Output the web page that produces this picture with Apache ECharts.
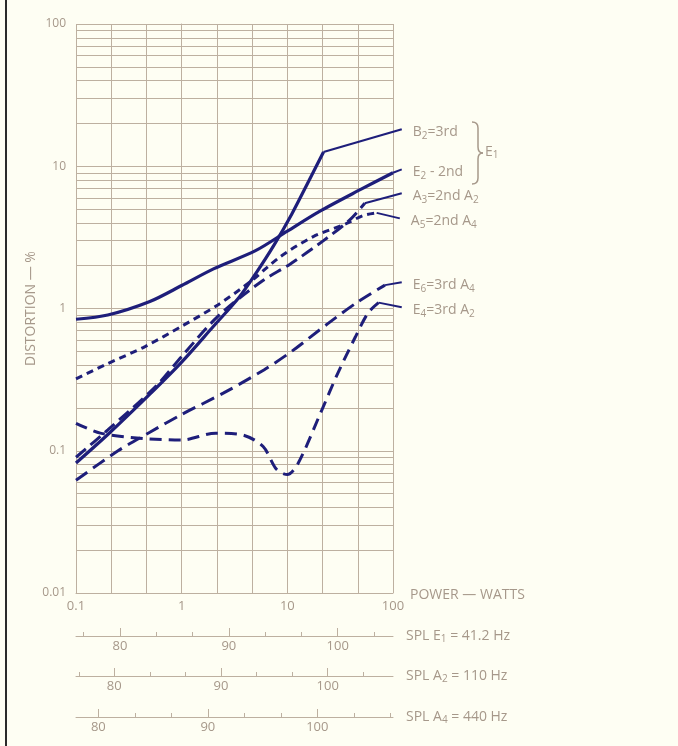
<!DOCTYPE html>
<html>
<head>
<meta charset="utf-8">
<script src="https://cdn.jsdelivr.net/npm/echarts@6/dist/echarts.min.js"></script>
<style>
html,body{margin:0;padding:0;background:#fefef3;}
#chart{width:678px;height:746px;}
</style>
</head>
<body>
<div id="chart"></div>
<script>
// ---- data (power in watts, distortion in %) ----
const powerLabels = [0.1, 1, 10, 100];
const distLabels = [0.01, 0.1, 1, 10, 100];

const curveB2 = [[0.1,0.082],[0.2,0.13],[0.5,0.25],[1,0.42],[2,0.75],[3.5,1.2],[5,1.75],[7.5,2.8],[11,4.6],[16,7.9],[22,12.6]];
const leaderB2 = [[22,12.6],[121,18.2]];

const curveE2 = [[0.1,0.84],[0.2,0.9],[0.5,1.12],[1,1.45],[2,1.9],[5,2.55],[10,3.5],[20,4.8],[50,6.9],[100,9.0]];
const leaderE2 = [[100,9.0],[121,9.5]];

const curveA3 = [[0.1,0.09],[0.2,0.14],[0.56,0.28],[1,0.46],[2.2,0.88],[5.7,1.55],[10.6,2.05],[22,3.0],[39,4.2],[54,5.5]];
const leaderA3 = [[54,5.5],[121,6.45]];

const curveA5 = [[0.1,0.32],[0.2,0.41],[0.45,0.54],[1,0.75],[2.2,1.06],[4.5,1.55],[8.5,2.3],[17.6,3.2],[36,3.95],[52,4.5],[70,4.7]];
const leaderA5 = [[70,4.7],[116,4.3]];

const curveE6 = [[0.1,0.062],[0.25,0.1],[0.5,0.135],[1,0.18],[2.5,0.255],[6,0.37],[11,0.5],[24,0.78],[47,1.12],[84,1.46]];
const leaderE6 = [[84,1.46],[121,1.53]];

const curveE4 = [[0.1,0.156],[0.17,0.133],[0.43,0.122],[1,0.119],[2.1,0.133],[3.8,0.129],[5.9,0.107],[7.9,0.074],[10,0.068],[12.7,0.082],[21,0.19],[30,0.35],[44,0.63],[58,0.93],[73,1.1]];
const leaderE4 = [[73,1.1],[121,1.02]];

// SPL scales (dB)
const splMajor = [80, 90, 100];
const splE1Minor = [76.67, 83.33, 86.67, 93.33, 96.67, 103.33];
const splA2Minor = [76.67, 83.33, 86.67, 93.33, 96.67, 103.33];
const splA4Minor = [83.33, 86.67, 93.33, 96.67, 103.33, 106.67];
const splE1Range = [75.96, 105.08];
const splA2Range = [76.41, 106.12];
const splA4Range = [77.96, 106.91];

// ---- styling ----
const ink = '#1e1e7a';
const gridColor = '#bdb0a0';
const textColor = '#a6988a';
const font = 'Open Sans';

const rich = {
  n: {fontSize: 14, color: textColor, fontFamily: font},
  s: {fontSize: 10, color: textColor, fontFamily: font, padding: [7,0,0,0]}
};
const richG = {
  n: {fontSize: 14, fill: textColor, fontFamily: font},
  s: {fontSize: 10, fill: textColor, fontFamily: font, padding: [7,0,0,0]}
};

const chart = echarts.init(document.getElementById('chart'), null, {renderer: 'canvas'});

function curve(data, dash, width) {
  return {
    type: 'line', data: data, xAxisIndex: 0, yAxisIndex: 0,
    smooth: 0.3, symbol: 'none', clip: false,
    lineStyle: {color: ink, width: width, type: dash, cap: 'butt'},
    silent: true, z: 3
  };
}
function leader(data, label, width) {
  return {
    type: 'line', data: data, xAxisIndex: 8, yAxisIndex: 1,
    symbol: 'none', clip: false, silent: true, z: 3,
    lineStyle: {color: ink, width: width || 2},
    endLabel: {show: true, formatter: label, distance: 11, offset: [0, 3], rich: rich}
  };
}
function splAxis(range, offset, name) {
  return {
    type: 'value', gridIndex: 0, position: 'bottom', offset: offset,
    min: range[0], max: range[1],
    name: name, nameLocation: 'end', nameGap: 13,
    nameTextStyle: {rich: rich, verticalAlign: 'middle'},
    axisLine: {show: true, lineStyle: {color: gridColor, width: 1}},
    axisTick: {show: true, inside: true, length: 8, customValues: splMajor, lineStyle: {color: gridColor}},
    axisLabel: {show: true, customValues: splMajor, color: textColor, fontSize: 13, fontFamily: font, margin: 4},
    splitLine: {show: false}
  };
}
function splMinorAxis(range, offset, minor) {
  return {
    type: 'value', gridIndex: 0, position: 'bottom', offset: offset,
    min: range[0], max: range[1],
    axisLine: {show: false},
    axisTick: {show: true, inside: true, length: 4, customValues: minor, lineStyle: {color: gridColor}},
    axisLabel: {show: false},
    splitLine: {show: false}
  };
}

const braceStyle = {stroke: textColor, lineWidth: 1.5, fill: null};

const option = {
  backgroundColor: '#fefef3',
  animation: false,
  grid: [
    {left: 76, top: 24, width: 317, height: 569},
    // same scale, extended one tenth of a decade to the right for the label leaders
    {left: 76, top: 24, width: 327.57, height: 569}
  ],
  xAxis: [
    {
      type: 'log', logBase: 10, min: 0.1, max: 100,
      name: 'POWER — WATTS', nameLocation: 'end', nameGap: 12,
      nameTextStyle: {color: textColor, fontSize: 14, fontFamily: font, verticalAlign: 'top', padding: [-5,0,0,0]},
      axisLine: {show: true, lineStyle: {color: gridColor, width: 1}},
      axisTick: {show: false},
      axisLabel: {
        color: textColor, fontSize: 13, fontFamily: font, margin: 7,
        customValues: powerLabels,
        formatter: function (v) { return String(v); }
      },
      splitLine: {show: false}
    },
    {
      type: 'value', min: -3, max: 6, interval: 1,
      axisLine: {show: false}, axisTick: {show: false}, axisLabel: {show: false},
      splitLine: {show: true, lineStyle: {color: gridColor, width: 1}}
    },
    splAxis(splE1Range, 43, '{n|SPL E}{s|1}{n| = 41.2 Hz}'),
    splMinorAxis(splE1Range, 43, splE1Minor),
    splAxis(splA2Range, 83, '{n|SPL A}{s|2}{n| = 110 Hz}'),
    splMinorAxis(splA2Range, 83, splA2Minor),
    splAxis(splA4Range, 124, '{n|SPL A}{s|4}{n| = 440 Hz}'),
    splMinorAxis(splA4Range, 124, splA4Minor),
    {
      type: 'log', logBase: 10, gridIndex: 1, min: 0.1, max: 125.8925,
      axisLine: {show: false}, axisTick: {show: false}, axisLabel: {show: false}, splitLine: {show: false}
    }
  ],
  yAxis: [
    {
      type: 'log', logBase: 10, min: 0.01, max: 100,
      name: 'DISTORTION — %', nameLocation: 'middle', nameGap: 38, nameRotate: 90,
      nameTextStyle: {color: textColor, fontSize: 14, fontFamily: font},
      axisLine: {show: true, lineStyle: {color: gridColor, width: 1}},
      axisTick: {show: false},
      axisLabel: {color: textColor, fontSize: 12, fontFamily: font, margin: 10,
        customValues: distLabels,
        formatter: function (v) { return String(v); }},
      splitLine: {show: true, lineStyle: {color: gridColor, width: 1}},
      minorTick: {show: false, splitNumber: 9},
      minorSplitLine: {show: true, lineStyle: {color: gridColor, width: 1}}
    },
    {
      type: 'log', logBase: 10, gridIndex: 1, min: 0.01, max: 100,
      axisLine: {show: false}, axisTick: {show: false}, axisLabel: {show: false}, splitLine: {show: false}
    }
  ],
  series: [
    curve(curveE2, 'solid', 3.2),
    leader(leaderE2, '{n|E}{s|2}{n| - 2nd}', 2),
    curve(curveB2, 'solid', 3.2),
    leader(leaderB2, '{n|B}{s|2}{n|=3rd}', 2.2),
    curve(curveA3, [13, 6], 3),
    leader(leaderA3, '{n|A}{s|3}{n|=2nd A}{s|2}', 2),
    curve(curveA5, [7, 5], 3),
    leader(leaderA5, '{n|A}{s|5}{n|=2nd A}{s|4}', 2),
    curve(curveE6, [14, 7], 3),
    leader(leaderE6, '{n|E}{s|6}{n|=3rd A}{s|4}', 2),
    curve(curveE4, [12, 7], 3),
    leader(leaderE4, '{n|E}{s|4}{n|=3rd A}{s|2}', 2)
  ],
  graphic: [
    {type: 'rect', left: 5, top: 0, shape: {width: 2, height: 746}, style: {fill: '#2a2a2a'}},
    {type: 'bezierCurve', shape: {x1: 472, y1: 122, cpx1: 478, cpy1: 122, x2: 478, y2: 128}, style: braceStyle},
    {type: 'line', shape: {x1: 478, y1: 128, x2: 478, y2: 147}, style: braceStyle},
    {type: 'bezierCurve', shape: {x1: 478, y1: 147, cpx1: 478, cpy1: 153, x2: 483, y2: 153}, style: braceStyle},
    {type: 'bezierCurve', shape: {x1: 483, y1: 153, cpx1: 478, cpy1: 153, x2: 478, y2: 159}, style: braceStyle},
    {type: 'line', shape: {x1: 478, y1: 159, x2: 478, y2: 178}, style: braceStyle},
    {type: 'bezierCurve', shape: {x1: 478, y1: 178, cpx1: 478, cpy1: 184, x2: 472, y2: 184}, style: braceStyle},
    {type: 'text', left: 485, top: 145,
      style: {text: '{n|E}{s|1}', rich: richG}}
  ]
};
chart.setOption(option);
</script>
</body>
</html>
